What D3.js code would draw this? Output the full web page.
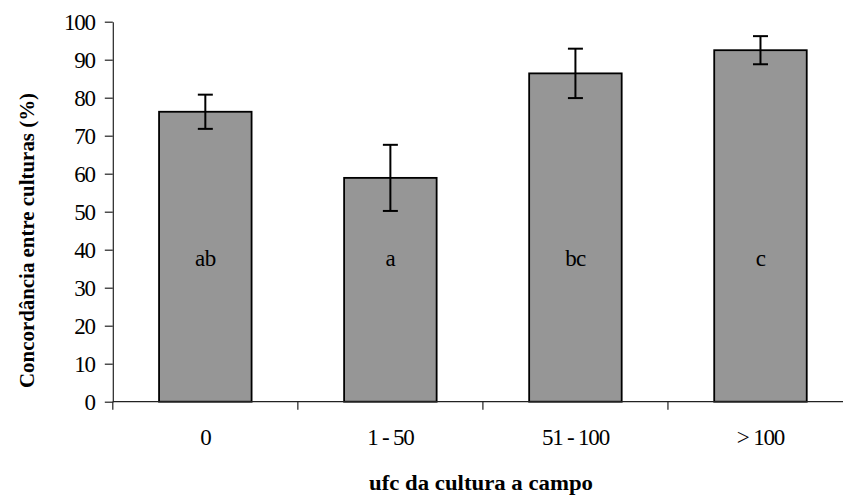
<!DOCTYPE html>
<html>
<head>
<meta charset="utf-8">
<script src="https://cdn.jsdelivr.net/npm/d3@7/dist/d3.min.js"></script>
<style>
  html, body { margin: 0; padding: 0; background: #fff; }
  svg { display: block; }
  svg text { font-family: "Liberation Serif", "Times New Roman", Tinos, serif !important; fill: #000; }
</style>
</head>
<body>
<svg id="chart" width="843" height="495"></svg>
<script>
// Concordância entre culturas por faixa de ufc
const categories = ["0", "1 - 50", "51 - 100", "> 100"];
const means = [76.3, 58.9, 86.4, 92.5];
const errors = [4.5, 8.7, 6.5, 3.7];
const groupLetters = ["ab", "a", "bc", "c"];
const yTicks = [0, 10, 20, 30, 40, 50, 60, 70, 80, 90, 100];
const letterLevel = 40;

const serif = "'Liberation Serif', 'Times New Roman', serif";
const svg = d3.select("#chart").attr("font-family", serif);

const plotLeft = 112.8, plotRight = 853, plotTop = 21.7, plotBottom = 401.7;

const x = d3.scaleBand()
  .domain(categories)
  .range([plotLeft, plotRight])
  .paddingInner(0.5)
  .paddingOuter(0.25);

const y = d3.scaleLinear().domain([0, 100]).range([plotBottom, plotTop]);

// bars
svg.append("g").selectAll("rect")
  .data(categories)
  .join("rect")
  .attr("x", d => x(d))
  .attr("y", (d, i) => y(means[i]))
  .attr("width", x.bandwidth())
  .attr("height", (d, i) => y(0) - y(means[i]))
  .attr("fill", "#969696")
  .attr("stroke", "#000")
  .attr("stroke-width", 1.8);

// error bars
const eb = svg.append("g").attr("stroke", "#000").attr("stroke-width", 2);
categories.forEach((c, i) => {
  const cx = x(c) + x.bandwidth() / 2;
  const hi = y(means[i] + errors[i]);
  const lo = y(means[i] - errors[i]);
  eb.append("line").attr("x1", cx).attr("x2", cx).attr("y1", hi).attr("y2", lo);
  eb.append("line").attr("x1", cx - 7.5).attr("x2", cx + 7.5).attr("y1", hi).attr("y2", hi);
  eb.append("line").attr("x1", cx - 7.5).attr("x2", cx + 7.5).attr("y1", lo).attr("y2", lo);
});

// group letters inside bars
svg.append("g").selectAll("text")
  .data(categories)
  .join("text")
  .attr("x", d => x(d) + x.bandwidth() / 2)
  .attr("y", y(letterLevel) + 16)
  .attr("text-anchor", "middle")
  .attr("font-family", serif)
  .attr("font-size", 23)
  .attr("letter-spacing", -0.6)
  .text((d, i) => groupLetters[i]);

// y axis
const yAxis = svg.append("g")
  .attr("transform", `translate(${plotLeft},0)`)
  .call(d3.axisLeft(y).tickValues(yTicks).tickSize(8).tickPadding(10).tickSizeOuter(0));
yAxis.attr("font-family", serif);
yAxis.select(".domain").attr("stroke", "#222").attr("stroke-width", 1.2);
yAxis.selectAll(".tick line").attr("stroke", "#222").attr("stroke-width", 1.2);
yAxis.selectAll(".tick text")
  .attr("font-family", serif)
  .attr("font-size", 23)
  .attr("letter-spacing", -1.2)
  .attr("fill", "#000");

// x axis: baseline with ticks at category boundaries
const step = x.step();
const boundaries = categories.map(c => x(c) - step * x.paddingInner() / 2)
  .concat([x(categories[categories.length - 1]) + x.bandwidth() + step * x.paddingInner() / 2]);
const xa = svg.append("g").attr("stroke", "#222").attr("stroke-width", 1.2);
xa.append("line").attr("x1", plotLeft).attr("x2", plotRight).attr("y1", plotBottom).attr("y2", plotBottom);
xa.selectAll("line.tk")
  .data(boundaries)
  .join("line")
  .attr("class", "tk")
  .attr("x1", d => d).attr("x2", d => d)
  .attr("y1", plotBottom).attr("y2", plotBottom + 8);

// category labels
svg.append("g").selectAll("text")
  .data(categories)
  .join("text")
  .attr("x", d => x(d) + x.bandwidth() / 2)
  .attr("y", 445)
  .attr("text-anchor", "middle")
  .attr("font-family", serif)
  .attr("font-size", 23)
  .attr("letter-spacing", -1.2)
  .text(d => d);

// axis titles
svg.append("text")
  .attr("x", 481)
  .attr("y", 490)
  .attr("text-anchor", "middle")
  .attr("font-family", serif)
  .attr("font-size", 20)
  .attr("font-weight", "bold")
  .attr("textLength", 224)
  .attr("lengthAdjust", "spacingAndGlyphs")
  .text("ufc da cultura a campo");

svg.append("text")
  .attr("transform", "translate(34,240.5) rotate(-90)")
  .attr("text-anchor", "middle")
  .attr("font-family", serif)
  .attr("font-size", 21)
  .attr("font-weight", "bold")
  .attr("textLength", 295)
  .attr("lengthAdjust", "spacingAndGlyphs")
  .text("Concordância entre culturas (%)");
</script>
</body>
</html>
